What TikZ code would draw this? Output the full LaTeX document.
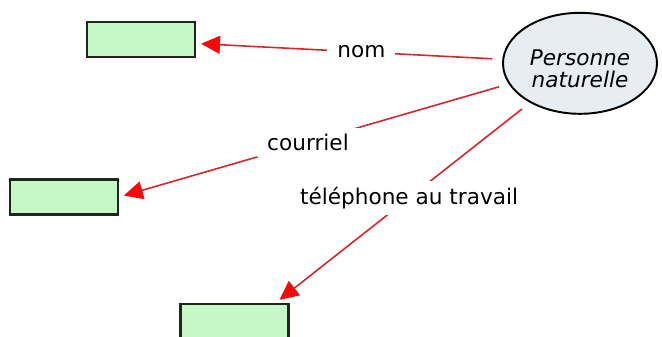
\documentclass[tikz,border=0pt]{standalone}
\usepackage{xcolor}
\usepackage{fontspec}
\usepackage{tikz}
\usetikzlibrary{shapes.geometric, arrows.meta, positioning, calc}
\setmainfont{DejaVu Sans}
\definecolor{entityfill}{HTML}{E6EEF2}
\definecolor{attrfill}{HTML}{C6F8C6}
\definecolor{edgegray}{HTML}{1E261E}
\definecolor{linkred}{HTML}{D8252B}
\definecolor{tipred}{HTML}{F50A0A}

\begin{document}
\begin{tikzpicture}[
    entity/.style={ellipse, draw=black, line width=1.1pt, fill=entityfill, minimum width=3.08cm, minimum height=2.02cm, inner sep=0pt},
    attrbox/.style={rectangle, draw=edgegray, line width=1.2pt, fill=attrfill, minimum width=2.16cm, minimum height=0.70cm},
    rolelabel/.style={fill=white, text=black, inner xsep=0.2cm, inner ysep=0.12cm, font=\fontsize{12.3}{14}\selectfont},
    link/.style={-{Triangle[length=0.38cm, width=0.36cm, color=tipred]}, line width=0.9pt, linkred, shorten <=0.2cm, shorten >=0.1cm}
]
\useasboundingbox (0,0) rectangle (13.24,-6.72);
\clip (0,0) rectangle (13.24,-6.72);

% Entity
\node[entity] (pn) at (11.6,-1.266) {};
\node[align=center, font=\fontsize{12.3}{12.5}\selectfont\itshape] (pntext) at ([yshift=-0.1cm]pn.center) {Personne\\naturelle};

% Attribute boxes
\node[attrbox] (nombox) at (2.82,-0.79) {};
\node[attrbox] (courrielbox) at (1.28,-3.94) {};
\node[attrbox] (telbox) at (4.69,-6.43) {};

% Arrows
\draw[link] (pn) -- node[rolelabel, pos=0.46] (nomlabel) {nom} ([yshift=-0.08cm]nombox.east);
\draw[link] (pn) -- node[rolelabel, pos=0.515] (courriellabel) {courriel} (courrielbox.east);
\draw[link] (pn) -- node[rolelabel, pos=0.475] (tellabel) {téléphone au travail} ([xshift=-0.28cm]telbox.north east);

\end{tikzpicture}
\end{document}
